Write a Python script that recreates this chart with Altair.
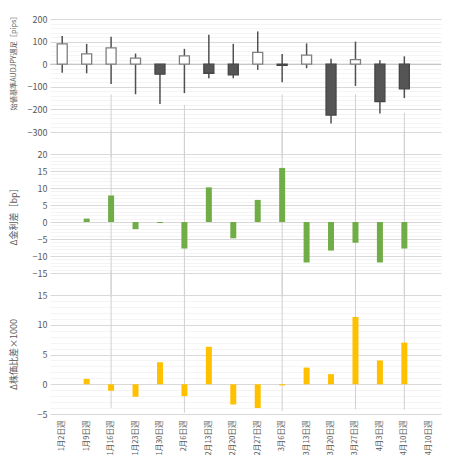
import altair as alt
import pandas as pd

weeks = ["1月2日週", "1月9日週", "1月16日週", "1月23日週", "1月30日週", "2月6日週",
         "2月13日週", "2月20日週", "2月27日週", "3月6日週", "3月13日週", "3月20日週",
         "3月27日週", "4月3日週", "4月10日週", "4月10日週"]

# weekly candles (open-based, pips) for the first 15 weeks
candle_open = [0, 0, 0, 0, 0, 0, 0, 0, 0, 0, 0, 0, 0, 0, 0]
candle_close = [90, 46, 72, 27, -44, 37, -40, -47, 52, -5, 40, -225, 20, -165, -109]
candle_high = [125, 90, 122, 47, 0, 68, 130, 90, 145, 45, 92, 24, 100, 18, 35]
candle_low = [-38, -40, -88, -133, -176, -128, -62, -62, -25, -80, -18, -262, -96, -218, -150]

# Δ rate differential [bp] per week (None = no bar)
rate_diff = [None, 1.0, 7.8, -2.1, -0.3, -7.8, 10.2, -4.8, 6.5, 15.9, -11.9, -8.4, -6.1, -11.9, -7.8, None]

# Δ stock ratio ×1000 per week
stock_diff = [None, 0.9, -1.1, -2.1, 3.7, -2.0, 6.3, -3.4, -4.0, -0.2, 2.8, 1.7, 11.3, 4.0, 7.0, None]

# vertical guide lines (week index, start in top panel, end in bottom panel)
guide_weeks = [2, 5, 9, 12, 14]
guide_top_start = [-133, -180, -133, -133, -215]
guide_bottom_end = [-4.0, -4.8, -4.5, -4.2, -4.3]

# axis tick values
top_major = [-300, -200, -100, 0, 100, 200]
top_minor = [v for v in range(-300, 201, 20) if v not in top_major]
mid_major = [-15, -10, -5, 0, 5, 10, 15, 20]
mid_minor = [v for v in range(-15, 21) if v not in mid_major]
bot_major = [-5, 0, 5, 10, 15]
bot_minor = [v for v in range(-5, 16) if v not in bot_major]

FONT = "Noto Sans CJK JP"
LABEL_C = "#595959"
idx = list(range(len(weeks)))
label_expr = "[" + ",".join("'" + w + "'" for w in weeks) + "][datum.value]"

xscale = alt.Scale(type="band", domain=idx, paddingInner=0, paddingOuter=0)


def xenc(show=False):
    if show:
        return alt.X("i:O", scale=xscale, axis=alt.Axis(
            labelExpr=label_expr, labelAngle=-90, labelFontSize=7.5, labelColor=LABEL_C,
            labelFont=FONT, ticks=False, domain=True, domainColor="#d9d9d9",
            labelPadding=6, title=None, grid=False))
    return alt.X("i:O", scale=xscale, axis=None)


def major_axis(values, title, title_y, title_size):
    return alt.Axis(
        values=values, labelOverlap=False, labelFontSize=9, labelColor=LABEL_C,
        labelFont=FONT, labelPadding=3, ticks=False, domain=False, grid=True,
        gridColor="#d9d9d9", title=title, titleX=-37, titleY=title_y, titleAngle=-90,
        titleAlign="center", titleBaseline="middle", titleFontSize=title_size,
        titleFont=FONT, titleColor=LABEL_C, titleFontWeight="normal")


def minor_axis(values):
    return alt.Axis(orient="right", values=values, labels=False, ticks=False,
                    domain=False, grid=True, gridColor="#f4f4f4", title=None)


# ---------- top: candles ----------
cdf = pd.DataFrame({"i": idx[:15], "o": candle_open, "c": candle_close,
                    "h": candle_high, "l": candle_low})
gtop = pd.DataFrame({"i": guide_weeks, "s": guide_top_start, "e": [-410] * len(guide_weeks)})

ytop = alt.Scale(domain=[-300, 200], nice=False, zero=False)
top_minor_l = alt.Chart(gtop).mark_rule(opacity=0).encode(
    y=alt.Y("s:Q", scale=ytop, axis=minor_axis(top_minor)))
top_guides = alt.Chart(gtop).mark_rule(color="#d0d0d0", strokeWidth=1).encode(
    x=xenc(), y=alt.Y("s:Q", scale=ytop,
                      axis=major_axis(top_major, "始値基準AUDJPY週足［pips］", 42, 7.2)),
    y2="e:Q")
zero_line = alt.Chart(pd.DataFrame({"z": [0]})).mark_rule(color="#bfbfbf", strokeWidth=1).encode(
    y=alt.Y("z:Q", scale=ytop, axis=None))
wick = alt.Chart(cdf).mark_rule(color="#505050", strokeWidth=1.5).encode(
    x=xenc(), y=alt.Y("l:Q", scale=ytop, axis=None), y2="h:Q")
body = alt.Chart(cdf).mark_bar(size=10, strokeWidth=1.3).encode(
    x=xenc(), y=alt.Y("o:Q", scale=ytop, axis=None), y2="c:Q",
    fill=alt.condition("datum.c >= datum.o", alt.value("white"), alt.value("#555555")),
    stroke=alt.condition("datum.c >= datum.o", alt.value("#7f7f7f"), alt.value("#454545")))
top = alt.layer(top_minor_l, top_guides, zero_line, wick, body).resolve_axis(
    y="independent").properties(width=391, height=113)

# ---------- middle: rate differential ----------
rdf = pd.DataFrame({"i": idx, "v": rate_diff}).dropna()
gmid = pd.DataFrame({"i": guide_weeks, "s": [27] * len(guide_weeks), "e": [-22] * len(guide_weeks)})
ymid = alt.Scale(domain=[-15, 20], nice=False)
mid_minor_l = alt.Chart(gmid).mark_rule(opacity=0).encode(
    y=alt.Y("e:Q", scale=ymid, axis=minor_axis(mid_minor)))
mid_guides = alt.Chart(gmid).mark_rule(color="#d0d0d0", strokeWidth=1).encode(
    x=xenc(), y=alt.Y("s:Q", scale=ymid, axis=major_axis(mid_major, "Δ金利差［bp］", 60, 9)),
    y2="e:Q")
mid_bars = alt.Chart(rdf).mark_bar(size=6, color="#70ad47").encode(
    x=xenc(), y=alt.Y("v:Q", scale=ymid, axis=None))
mid = alt.layer(mid_minor_l, mid_guides, mid_bars).resolve_axis(
    y="independent").properties(width=391, height=119)

# ---------- bottom: stock ratio ----------
sdf = pd.DataFrame({"i": idx, "v": stock_diff}).dropna()
gbot = pd.DataFrame({"i": guide_weeks, "s": [19] * len(guide_weeks), "e": guide_bottom_end})
ybot = alt.Scale(domain=[-5, 15], nice=False)
bot_minor_l = alt.Chart(gbot).mark_rule(opacity=0).encode(
    y=alt.Y("e:Q", scale=ybot, axis=minor_axis(bot_minor)))
bot_guides = alt.Chart(gbot).mark_rule(color="#d0d0d0", strokeWidth=1).encode(
    x=xenc(True), y=alt.Y("s:Q", scale=ybot, axis=major_axis(bot_major, "Δ株価比差×1000", 59, 9)),
    y2="e:Q")
bot_bars = alt.Chart(sdf).mark_bar(size=6, color="#ffc000").encode(
    x=xenc(True), y=alt.Y("v:Q", scale=ybot, axis=None))
bot = alt.layer(bot_minor_l, bot_guides, bot_bars).resolve_axis(
    y="independent").properties(width=391, height=119)

chart = alt.vconcat(top, mid, bot, spacing=22, bounds="flush").properties(
    padding={"left": 0, "top": 4, "right": 0, "bottom": 0},
    background="white",
).configure_view(stroke=None)

chart.save("out.html", embed_options={"renderer": "svg", "actions": False})
